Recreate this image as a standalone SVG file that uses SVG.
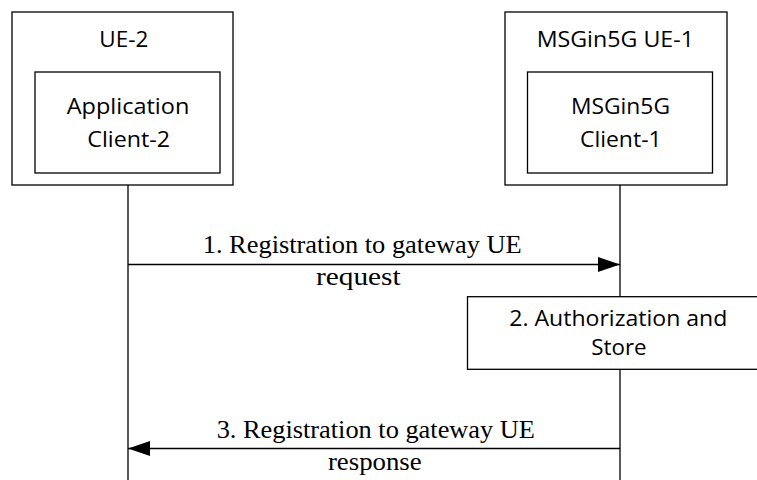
<svg xmlns="http://www.w3.org/2000/svg" width="757" height="480" viewBox="0 0 757 480">
<style>
.box{fill:#fff;stroke:#000;stroke-width:1.3}
.ll{stroke:#000;stroke-width:1.3;fill:none}
.s{font-family:"Open Sans","Liberation Sans",sans-serif;font-size:22px;fill:#000;text-anchor:middle}
.t{font-family:"Liberation Serif","Times New Roman",serif;font-size:26px;fill:#000;text-anchor:middle}
</style>
<defs>
<marker id="ah" viewBox="0 0 22 15" refX="22" refY="7.5" markerWidth="22" markerHeight="15" markerUnits="userSpaceOnUse" orient="auto">
<path d="M0,0 L22,7.5 L0,15 Z" fill="#000"/>
</marker>
</defs>
<g id="lifelines">
<line class="ll" x1="128" y1="173" x2="128" y2="480"/>
<line class="ll" x1="620" y1="173" x2="620" y2="480"/>
</g>
<g id="ue2">
<rect class="box" x="12" y="12" width="221" height="173"/>
<text class="s" x="123.8" y="47.3" textLength="49" lengthAdjust="spacingAndGlyphs">UE-2</text>
</g>
<g id="appclient2">
<rect class="box" x="35" y="72" width="185" height="101"/>
<text class="s" x="128" y="114.3" textLength="122.7" lengthAdjust="spacingAndGlyphs">Application</text>
<text class="s" x="128.7" y="146.7" textLength="82.7" lengthAdjust="spacingAndGlyphs">Client-2</text>
</g>
<g id="ue1">
<rect class="box" x="505" y="12" width="222" height="173"/>
<text class="s" x="615.3" y="47.3" textLength="157.3" lengthAdjust="spacingAndGlyphs">MSGin5G UE-1</text>
</g>
<g id="client1">
<rect class="box" x="527.5" y="72" width="185" height="101"/>
<text class="s" x="620.5" y="114.3" textLength="99" lengthAdjust="spacingAndGlyphs">MSGin5G</text>
<text class="s" x="620.8" y="146.7" textLength="81.7" lengthAdjust="spacingAndGlyphs">Client-1</text>
</g>
<g id="connectors">
<line class="ll" x1="128" y1="264.5" x2="620" y2="264.5" marker-end="url(#ah)"/>
<line class="ll" x1="620" y1="448.5" x2="128" y2="448.5" marker-end="url(#ah)"/>
</g>
<g id="step1-label">
<text class="t" x="362.2" y="253.3" textLength="319" lengthAdjust="spacingAndGlyphs">1. Registration to gateway UE</text>
<text class="t" x="358.3" y="285" textLength="84.7" lengthAdjust="spacingAndGlyphs">request</text>
</g>
<g id="step2">
<rect class="box" x="467.5" y="296.7" width="300" height="72.6"/>
<text class="s" x="618.3" y="325.7" textLength="218" lengthAdjust="spacingAndGlyphs">2. Authorization and</text>
<text class="s" x="619" y="355" textLength="55.3" lengthAdjust="spacingAndGlyphs">Store</text>
</g>
<g id="step3-label">
<text class="t" x="375.8" y="438.3" textLength="318.3" lengthAdjust="spacingAndGlyphs">3. Registration to gateway UE</text>
<text class="t" x="374.8" y="470" textLength="93.7" lengthAdjust="spacingAndGlyphs">response</text>
</g>
</svg>
